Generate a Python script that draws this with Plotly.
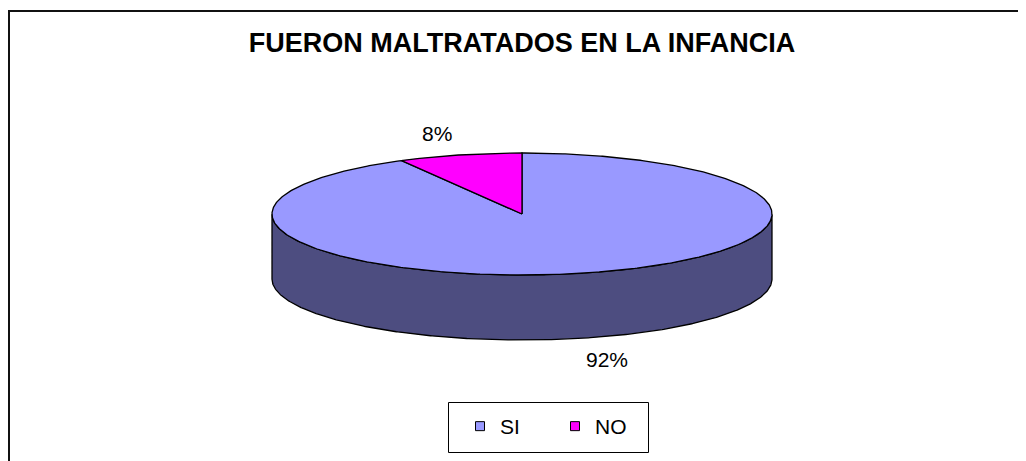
import numpy as np
import plotly.graph_objects as go

# ---- data ----
categories = ["SI", "NO"]
values = [92, 8]
top_colors = ["#9999FF", "#FF00FF"]
side_colors = ["#4D4D80", "#800080"]
title_text = "FUERON MALTRATADOS EN LA INFANCIA"

# ---- geometry (page pixel space; the page body has an 8px margin) ----
OFF = 8
PW, PH = 1026, 461
W, H = PW - OFF, PH - OFF
CX, CY = 522, 214
RX, RY = 250, 61
DEPTH = 65
FONT = "Liberation Sans, Arial, sans-serif"

total = float(sum(values))
fig = go.Figure()


def ell(theta_deg, dy=0.0, k=1.0):
    t = np.radians(theta_deg)
    return CX + k * RX * np.cos(t), CY - k * RY * np.sin(t) + dy


def px(x):
    return (x - OFF) / W


def py(y):
    return 1 - (y - OFF) / H


# slice angle ranges: start at 12 o'clock, clockwise
ranges = []
start = 90.0
for v in values:
    end = start - 360.0 * v / total
    ranges.append((start, end))
    start = end

# side walls (front half only)
for (a0, a1), col in zip(ranges, side_colors):
    th = np.linspace(a0, a1, 800)
    mask = np.sin(np.radians(th)) <= 1e-9
    if not mask.any():
        continue
    idx = np.where(mask)[0]
    runs = np.split(idx, np.where(np.diff(idx) != 1)[0] + 1)
    for r in runs:
        if len(r) < 2:
            continue
        tt = th[r]
        xt, yt = ell(tt)
        xb, yb = ell(tt[::-1], dy=DEPTH)
        xs = np.concatenate([xt, xb, xt[:1]])
        ys = np.concatenate([yt, yb, yt[:1]])
        fig.add_trace(go.Scatter(x=xs, y=ys, mode="lines", fill="toself",
                                 fillcolor=col, line=dict(color="black", width=1.3),
                                 hoverinfo="skip", showlegend=False))

# top faces
for (a0, a1), col in zip(ranges, top_colors):
    th = np.linspace(a0, a1, 600)
    xa, ya = ell(th)
    xs = np.concatenate([[CX], xa, [CX]])
    ys = np.concatenate([[CY], ya, [CY]])
    fig.add_trace(go.Scatter(x=xs, y=ys, mode="lines", fill="toself",
                             fillcolor=col, line=dict(color="black", width=1.3),
                             hoverinfo="skip", showlegend=False))

# percentage labels
for (a0, a1), v in zip(ranges, values):
    mid = (a0 + a1) / 2.0
    dy = DEPTH if np.sin(np.radians(mid)) < 0 else 0
    lx, ly = ell(mid, dy=dy, k=1.36)
    fig.add_annotation(x=lx, y=ly, xref="x", yref="y",
                       text=f"{round(100 * v / total)}%", showarrow=False,
                       font=dict(family=FONT, size=21, color="black"))

# legend entries
for name, col in zip(categories, top_colors):
    fig.add_trace(go.Scatter(x=[None], y=[None], mode="markers", name=name,
                             marker=dict(symbol="square", size=9, color=col,
                                         line=dict(color="black", width=1))))

# legend frame
fig.add_shape(type="rect", xref="x", yref="y", x0=448.5, x1=648.5,
              y0=402.5, y1=452.5, line=dict(color="black", width=1),
              fillcolor="white", layer="below")

# chart border (right and bottom edges fall outside the view)
fig.add_shape(type="rect", xref="x", yref="y", x0=9, x1=PW + 40,
              y0=11, y1=PH + 40, line=dict(color="#111111", width=2))

fig.update_layout(
    width=W, height=H, autosize=False,
    margin=dict(l=0, r=0, t=0, b=0),
    paper_bgcolor="white", plot_bgcolor="white",
    title=dict(text=f"<b>{title_text}</b>", x=px(CX), xanchor="center",
               y=py(43), yanchor="middle", yref="container",
               font=dict(family=FONT, size=27, color="black")),
    xaxis=dict(range=[OFF, PW], visible=False, fixedrange=True),
    yaxis=dict(range=[PH, OFF], visible=False, fixedrange=True),
    showlegend=True,
    legend=dict(orientation="h", x=px(460), xanchor="left",
                y=py(406), yanchor="top",
                borderwidth=0, bgcolor="rgba(0,0,0,0)",
                font=dict(family=FONT, size=21, color="black"),
                entrywidth=50, itemwidth=30),
)

fig.write_html("out.html")
